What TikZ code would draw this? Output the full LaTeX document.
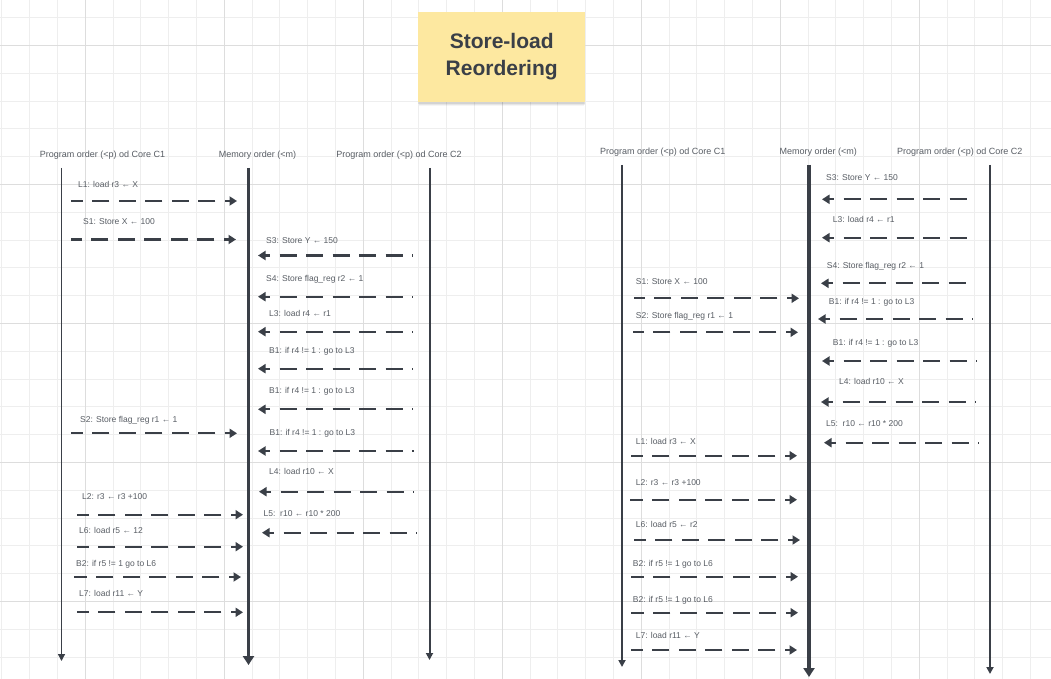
\documentclass[tikz,border=0pt]{standalone}
\usepackage{fontspec}
\setmainfont{Liberation Sans}
\usetikzlibrary{arrows.meta,shadows}

\definecolor{inkc}{HTML}{3A3F47}
\definecolor{labc}{HTML}{585D64}
\definecolor{notec}{HTML}{FDE8A0}
\definecolor{gridc}{HTML}{EEEEEE}
\definecolor{gridmaj}{HTML}{DDDDDD}

\tikzset{
  lbl/.style={anchor=west, inner sep=0pt, text=labc, text height=6.1pt, text depth=0pt,
    font=\fontsize{8.5}{10}\selectfont},
  head/.style={inner sep=0pt, text=labc, text height=6.4pt, text depth=0pt,
    font=\fontsize{9}{10}\selectfont},
  msg/.style={draw=inkc, line width=2.2pt, dash pattern=on 17pt off 9.5pt, dash phase=12pt,
    {Triangle[length=7.5pt,width=9pt]}-},
  life/.style={draw=inkc, line width=1.5pt, -{Triangle[length=7pt,width=7pt]}},
  memline/.style={draw=inkc, line width=3.4pt, -{Triangle[length=9pt,width=11pt]}},
  note/.style={fill=notec, minimum width=167pt, minimum height=90pt, inner sep=0pt,
    align=center, text=inkc, font=\fontsize{21}{26.5}\selectfont\bfseries,
    drop shadow={shadow xshift=0pt, shadow yshift=-5pt, shadow scale=0.99, opacity=0.04, fill=black},
    drop shadow={shadow xshift=0pt, shadow yshift=-3.5pt, shadow scale=0.995, opacity=0.06, fill=black},
    drop shadow={shadow xshift=0pt, shadow yshift=-2pt, opacity=0.08, fill=black}}
}

\begin{document}
\begin{tikzpicture}[x=1pt, y=-1pt]
  \useasboundingbox (0,0) rectangle (1051,679);
  \fill[white] (0,0) rectangle (1051,679);

  % background grid
  \foreach \i in {0,...,37}
    \draw[gridc, line width=0.9pt] ({1.9+27.8*\i},0) -- ({1.9+27.8*\i},679);
  \foreach \j in {0,...,23}
    \draw[gridc, line width=0.9pt] (0,{17.7+27.8*\j}) -- (1051,{17.7+27.8*\j});
  \foreach \i in {3,8,...,33}
    \draw[gridmaj, line width=0.9pt] ({1.9+27.8*\i},0) -- ({1.9+27.8*\i},679);
  \foreach \j in {1,6,...,21}
    \draw[gridmaj, line width=0.9pt] (0,{17.7+27.8*\j}) -- (1051,{17.7+27.8*\j});

  % title
  \node[note] (title) at (501.7,56.7) {Store-load\\Reordering};

  % ---- left diagram ----
  \node[head] (lhc1) at (102.5,154) {Program order (<p) od Core C1};
  \node[head] (lhm) at (257.5,154) {Memory order (<m)};
  \node[head] (lhc2) at (399,154) {Program order (<p) od Core C2};

  \coordinate (lc1a) at (61.5,168);  \coordinate (lc1b) at (61.5,661);
  \coordinate (lma) at (248.5,168);  \coordinate (lmb) at (248.5,665);
  \coordinate (lc2a) at (429.5,168); \coordinate (lc2b) at (429.5,660);
  \draw[life, line width=1.3pt] (lc1a) -- (lc1b);
  \draw[memline] (lma) -- (lmb);
  \draw[life, line width=2pt] (lc2a) -- (lc2b);

  % messages: drawn from the tip end back to the tail
  \node[lbl] (lt1) at (78,184) {L1: load r3 ← X};
  \coordinate (lp1) at (71,201);     \coordinate (lq1) at (237,201);
  \draw[msg] (lq1) -- (lp1);
  \node[lbl] (lt2) at (83,221.7) {S1: Store X ← 100};
  \coordinate (lp2) at (71,239.5);   \coordinate (lq2) at (236,239.5);
  \draw[msg] (lq2) -- (lp2);
  \node[lbl] (lt3) at (266,240) {S3: Store Y ← 150};
  \coordinate (lp3) at (413,255.5);  \coordinate (lq3) at (258,255.5);
  \draw[msg] (lq3) -- (lp3);
  \node[lbl] (lt4) at (266,278.5) {S4: Store flag\_reg r2 ← 1};
  \coordinate (lp4) at (413,296.7);  \coordinate (lq4) at (258,296.7);
  \draw[msg] (lq4) -- (lp4);
  \node[lbl] (lt5) at (269,313.5) {L3: load r4 ← r1};
  \coordinate (lp5) at (413,331.7);  \coordinate (lq5) at (258,331.7);
  \draw[msg] (lq5) -- (lp5);
  \node[lbl] (lt6) at (269,350.7) {B1: if r4 != 1 : go to L3};
  \coordinate (lp6) at (413,368.7);  \coordinate (lq6) at (258,368.7);
  \draw[msg] (lq6) -- (lp6);
  \node[lbl] (lt7) at (269,390.7) {B1: if r4 != 1 : go to L3};
  \coordinate (lp7) at (413,409.3);  \coordinate (lq7) at (258,409.3);
  \draw[msg] (lq7) -- (lp7);
  \node[lbl] (lt8) at (80,419) {S2: Store flag\_reg r1 ← 1};
  \coordinate (lp8) at (71,433.3);   \coordinate (lq8) at (237,433.3);
  \draw[msg] (lq8) -- (lp8);
  \node[lbl] (lt9) at (269.5,432.7) {B1: if r4 != 1 : go to L3};
  \coordinate (lp9) at (414,451);    \coordinate (lq9) at (258,451);
  \draw[msg] (lq9) -- (lp9);
  \node[lbl] (lt10) at (269,471.7) {L4: load r10 ← X};
  \coordinate (lp10) at (414,491.7); \coordinate (lq10) at (259,491.7);
  \draw[msg] (lq10) -- (lp10);
  \node[lbl] (lt11) at (82,496.7) {L2: r3 ← r3 +100};
  \coordinate (lp11) at (77,514.7);  \coordinate (lq11) at (243,514.7);
  \draw[msg] (lq11) -- (lp11);
  \node[lbl] (lt12) at (263.5,513.3) {L5:\ \ r10 ← r10 * 200};
  \coordinate (lp12) at (417,532.7); \coordinate (lq12) at (262,532.7);
  \draw[msg] (lq12) -- (lp12);
  \node[lbl] (lt13) at (79,530) {L6: load r5 ← 12};
  \coordinate (lp13) at (77,546.7);  \coordinate (lq13) at (243,546.7);
  \draw[msg] (lq13) -- (lp13);
  \node[lbl] (lt14) at (76,563.7) {B2: if r5 != 1 go to L6};
  \coordinate (lp14) at (74,577);    \coordinate (lq14) at (241,577);
  \draw[msg] (lq14) -- (lp14);
  \node[lbl] (lt15) at (79,593.7) {L7: load r11 ← Y};
  \coordinate (lp15) at (77,612.3);  \coordinate (lq15) at (243,612.3);
  \draw[msg] (lq15) -- (lp15);

  % ---- right diagram ----
  \node[head] (rhc1) at (662.8,151) {Program order (<p) od Core C1};
  \node[head] (rhm) at (818.3,151) {Memory order (<m)};
  \node[head] (rhc2) at (959.8,151) {Program order (<p) od Core C2};

  \coordinate (rc1a) at (622,165);   \coordinate (rc1b) at (622,667);
  \coordinate (rma) at (809,165);    \coordinate (rmb) at (809,677);
  \coordinate (rc2a) at (990,165);   \coordinate (rc2b) at (990,674);
  \draw[life, line width=1.7pt] (rc1a) -- (rc1b);
  \draw[memline] (rma) -- (rmb);
  \draw[life, line width=2.2pt] (rc2a) -- (rc2b);

  \node[lbl] (rt1) at (826,177.3) {S3: Store Y ← 150};
  \coordinate (rp1) at (976,199.3);  \coordinate (rq1) at (822,199.3);
  \draw[msg] (rq1) -- (rp1);
  \node[lbl] (rt2) at (832.7,219.3) {L3: load r4 ← r1};
  \coordinate (rp2) at (976,237.7);  \coordinate (rq2) at (822,237.7);
  \draw[msg] (rq2) -- (rp2);
  \node[lbl] (rt3) at (826.7,265) {S4: Store flag\_reg r2 ← 1};
  \coordinate (rp3) at (975,283.3);  \coordinate (rq3) at (821,283.3);
  \draw[msg] (rq3) -- (rp3);
  \node[lbl] (rt4) at (635.7,281.7) {S1: Store X ← 100};
  \coordinate (rp4) at (634,298.3);  \coordinate (rq4) at (799,298.3);
  \draw[msg] (rq4) -- (rp4);
  \node[lbl] (rt5) at (828.7,301) {B1: if r4 != 1 : go to L3};
  \coordinate (rp5) at (973,319);    \coordinate (rq5) at (818,319);
  \draw[msg] (rq5) -- (rp5);
  \node[lbl] (rt6) at (635.7,315.7) {S2: Store flag\_reg r1 ← 1};
  \coordinate (rp6) at (633,332.3);  \coordinate (rq6) at (798,332.3);
  \draw[msg] (rq6) -- (rp6);
  \node[lbl] (rt7) at (832.7,342.7) {B1: if r4 != 1 : go to L3};
  \coordinate (rp7) at (977,361);    \coordinate (rq7) at (822,361);
  \draw[msg] (rq7) -- (rp7);
  \node[lbl] (rt8) at (839,381.7) {L4: load r10 ← X};
  \coordinate (rp8) at (976,402);    \coordinate (rq8) at (821,402);
  \draw[msg] (rq8) -- (rp8);
  \node[lbl] (rt9) at (826,423.3) {L5:\ \ r10 ← r10 * 200};
  \coordinate (rp9) at (979,442.7);  \coordinate (rq9) at (824,442.7);
  \draw[msg] (rq9) -- (rp9);
  \node[lbl] (rt10) at (635.7,441.3) {L1: load r3 ← X};
  \coordinate (rp10) at (631,455.7); \coordinate (rq10) at (797,455.7);
  \draw[msg] (rq10) -- (rp10);
  \node[lbl] (rt11) at (635.7,482.7) {L2: r3 ← r3 +100};
  \coordinate (rp11) at (630,499.7); \coordinate (rq11) at (797,499.7);
  \draw[msg] (rq11) -- (rp11);
  \node[lbl] (rt12) at (635.7,524.7) {L6: load r5 ← r2};
  \coordinate (rp12) at (634,540);   \coordinate (rq12) at (800,540);
  \draw[msg] (rq12) -- (rp12);
  \node[lbl] (rt13) at (632.7,563) {B2: if r5 != 1 go to L6};
  \coordinate (rp13) at (631,576.7); \coordinate (rq13) at (798,576.7);
  \draw[msg] (rq13) -- (rp13);
  \node[lbl] (rt14) at (632.7,599) {B2: if r5 != 1 go to L6};
  \coordinate (rp14) at (631,612.7); \coordinate (rq14) at (798,612.7);
  \draw[msg] (rq14) -- (rp14);
  \node[lbl] (rt15) at (635.7,635) {L7: load r11 ← Y};
  \coordinate (rp15) at (631,650);   \coordinate (rq15) at (797,650);
  \draw[msg] (rq15) -- (rp15);
\end{tikzpicture}
\end{document}
